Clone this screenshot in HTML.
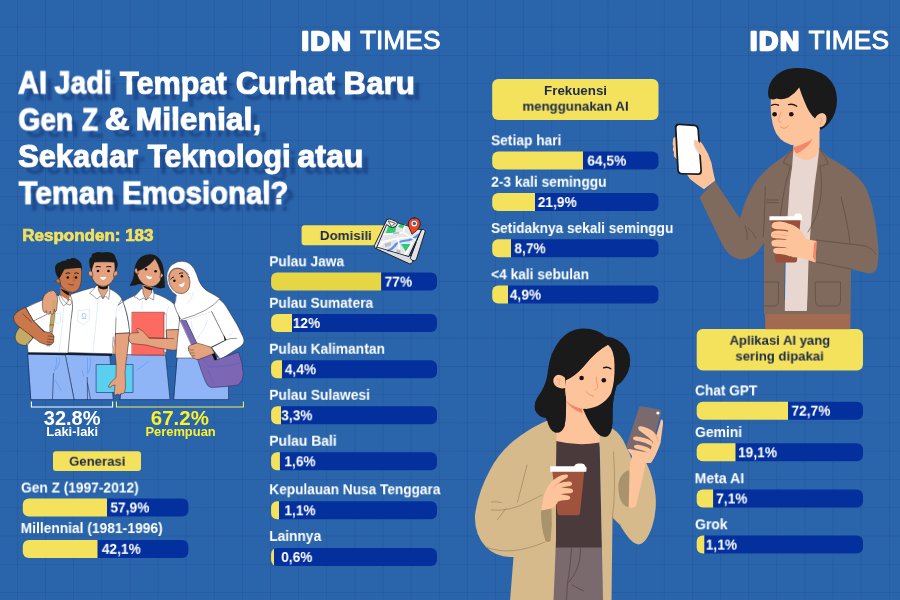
<!DOCTYPE html>
<html lang="id"><head><meta charset="utf-8"><title>AI Jadi Tempat Curhat Baru Gen Z &amp; Milenial</title>
<style>
*{box-sizing:border-box}
html,body{margin:0;padding:0}
body{width:900px;height:600px;overflow:hidden;position:relative;background:#2a65ac;font-family:"Liberation Sans",sans-serif;color:#fff}
.grid{position:absolute;left:0;top:0;width:900px;height:600px;
 background-image:linear-gradient(to right,rgba(22,40,100,.15) 0,rgba(22,40,100,.15) 1.3px,transparent 1.3px),linear-gradient(to bottom,rgba(22,40,100,.15) 0,rgba(22,40,100,.15) 1.3px,transparent 1.3px);
 background-size:28.14px 28.28px;background-position:16.9px 26.7px}
.art{position:absolute;left:0;top:0;width:900px;height:600px;overflow:visible}
.t{position:absolute;left:0;top:0;white-space:nowrap;line-height:1;transform-origin:0 0;margin:0;font-weight:700;paint-order:stroke fill;will-change:transform}
.bar{position:absolute;left:0;top:0;border-radius:6px;background:#03309c;transform-origin:0 0}
.pill{position:absolute;left:0;top:0;background:#f4e25c;border-radius:5px;transform-origin:0 0}
h1,h2,p{margin:0;font-size:inherit;font-weight:inherit}
</style></head>
<body>
<div class="grid"></div>
<h1 class="title"><span class="t tl" style="font-size:30.6px;color:#fff;-webkit-text-stroke:1.2px #fff;transform:translate(18.10px,67.50px) scaleX(0.9482);text-shadow:6.5px 6.5px 2.5px rgba(16,40,100,.45);">AI </span><span class="t tl" style="font-size:30.6px;color:#fff;-webkit-text-stroke:1.2px #fff;transform:translate(54.57px,67.50px) scaleX(0.9311);text-shadow:6.5px 6.5px 2.5px rgba(16,40,100,.45);">Jadi </span><span class="t tl" style="font-size:30.6px;color:#fff;-webkit-text-stroke:1.2px #fff;transform:translate(120.12px,67.50px) scaleX(1.0014);text-shadow:6.5px 6.5px 2.5px rgba(16,40,100,.45);">Tempat </span><span class="t tl" style="font-size:30.6px;color:#fff;-webkit-text-stroke:1.2px #fff;transform:translate(235.88px,67.50px) scaleX(1.0068);text-shadow:6.5px 6.5px 2.5px rgba(16,40,100,.45);">Curhat </span><span class="t tl" style="font-size:30.6px;color:#fff;-webkit-text-stroke:1.2px #fff;transform:translate(343.58px,67.50px) scaleX(1.0209);text-shadow:6.5px 6.5px 2.5px rgba(16,40,100,.45);">Baru</span><span class="t tl" style="font-size:30.6px;color:#fff;-webkit-text-stroke:1.2px #fff;transform:translate(18.43px,104.40px) scaleX(0.9205);text-shadow:6.5px 6.5px 2.5px rgba(16,40,100,.45);">Gen </span><span class="t tl" style="font-size:30.6px;color:#fff;-webkit-text-stroke:1.2px #fff;transform:translate(82.10px,104.40px) scaleX(0.8498);text-shadow:6.5px 6.5px 2.5px rgba(16,40,100,.45);">Z </span><span class="t tl" style="font-size:30.6px;color:#fff;-webkit-text-stroke:1.2px #fff;transform:translate(104.78px,104.40px) scaleX(1.1238);text-shadow:6.5px 6.5px 2.5px rgba(16,40,100,.45);">&amp; </span><span class="t tl" style="font-size:30.6px;color:#fff;-webkit-text-stroke:1.2px #fff;transform:translate(135.65px,104.40px) scaleX(1.0401);text-shadow:6.5px 6.5px 2.5px rgba(16,40,100,.45);">Milenial,</span><span class="t tl" style="font-size:30.6px;color:#fff;-webkit-text-stroke:1.2px #fff;transform:translate(18.16px,141.10px) scaleX(1.0075);text-shadow:6.5px 6.5px 2.5px rgba(16,40,100,.45);">Sekadar </span><span class="t tl" style="font-size:30.6px;color:#fff;-webkit-text-stroke:1.2px #fff;transform:translate(147.72px,141.10px) scaleX(1.0038);text-shadow:6.5px 6.5px 2.5px rgba(16,40,100,.45);">Teknologi </span><span class="t tl" style="font-size:30.6px;color:#fff;-webkit-text-stroke:1.2px #fff;transform:translate(297.38px,141.10px) scaleX(1.0483);text-shadow:6.5px 6.5px 2.5px rgba(16,40,100,.45);">atau</span><span class="t tl" style="font-size:30.6px;color:#fff;-webkit-text-stroke:1.2px #fff;transform:translate(18.82px,177.80px) scaleX(0.9872);text-shadow:6.5px 6.5px 2.5px rgba(16,40,100,.45);">Teman </span><span class="t tl" style="font-size:30.6px;color:#fff;-webkit-text-stroke:1.2px #fff;transform:translate(122.17px,177.80px) scaleX(0.9579);text-shadow:6.5px 6.5px 2.5px rgba(16,40,100,.45);">Emosional?</span></h1>
<div class="t" style="font-size:15.8px;color:#f3e05c;-webkit-text-stroke:0.7px #f3e05c;transform:translate(22.30px,227.63px) scaleX(1.0750);">Responden: 183</div>
<div class="t" style="font-size:20px;color:#fff;transform:translate(43.76px,408.47px) scaleX(1.0013);">32.8%</div>
<div class="t" style="font-size:12.8px;color:#fff;transform:translate(46.28px,425.86px) scaleX(1.0129);">Laki-laki</div>
<div class="t" style="font-size:20px;color:#fbf22a;transform:translate(150.87px,408.47px) scaleX(1.0223);">67.2%</div>
<div class="t" style="font-size:12.8px;color:#fbf22a;transform:translate(145.38px,425.86px) scaleX(1.0089);">Perempuan</div>
<section class="generasi">
<div class="pill" style="width:88px;height:20px;transform:translate(53.00px,451.20px) scale(1.0000,0.9900);border-radius:3px;"></div>
<h2 class="t" style="font-size:13.3px;color:#1b2a4a;transform:translate(69.08px,454.74px) scaleX(0.9897);">Generasi</h2>
<div class="t" style="font-size:14.4px;color:#fff;transform:translate(21.03px,480.51px) scaleX(0.9541);">Gen Z (1997-2012)</div>
<div class="bar" style="width:166px;height:18px;transform:translate(22.80px,498.50px) scale(0.9976,1.0000);background:linear-gradient(90deg,#f4e25c 0,#f4e25c 84.15px,#03309c 84.65px)"></div><div class="t v" style="font-size:14.6px;color:#fff;transform:translate(110.44px,500.47px) scaleX(0.9400);">57,9%</div>
<div class="t" style="font-size:14.4px;color:#fff;transform:translate(20.64px,521.01px) scaleX(0.9593);">Millennial (1981-1996)</div>
<div class="bar" style="width:166px;height:18px;transform:translate(22.80px,539.90px) scale(0.9976,1.0000);background:linear-gradient(90deg,#f4e25c 0,#f4e25c 74.63px,#03309c 75.13px)"></div><div class="t v" style="font-size:14.6px;color:#fff;transform:translate(101.83px,541.87px) scaleX(0.9400);">42,1%</div>
</section>
<section class="domisili">
<div class="pill" style="width:89px;height:20px;transform:translate(301.60px,225.20px) scale(1.0000,1.0050);border-radius:3px;"></div>
<h2 class="t" style="font-size:13.4px;color:#1b2a4a;transform:translate(319.86px,228.96px) scaleX(0.9968);">Domisili</h2>
<div class="t" style="font-size:14.4px;color:#fff;transform:translate(269.25px,254.31px) scaleX(0.9531);">Pulau Jawa</div>
<div class="bar" style="width:166px;height:18px;transform:translate(271.10px,272.60px) scale(0.9994,1.0000);background:linear-gradient(90deg,#e6d645 0,#e6d645 110.02px,#03309c 110.52px)"></div><div class="t v" style="font-size:14.6px;color:#fff;transform:translate(384.67px,274.57px) scaleX(0.9400);">77%</div>
<div class="t" style="font-size:14.4px;color:#fff;transform:translate(269.25px,295.81px) scaleX(0.9548);">Pulau Sumatera</div>
<div class="bar" style="width:166px;height:18px;transform:translate(271.10px,314.00px) scale(0.9994,1.0000);background:linear-gradient(90deg,#f4e25c 0,#f4e25c 20.46px,#03309c 20.96px)"></div><div class="t v" style="font-size:14.6px;color:#fff;transform:translate(292.76px,315.97px) scaleX(0.9400);">12%</div>
<div class="t" style="font-size:14.4px;color:#fff;transform:translate(269.24px,341.71px) scaleX(0.9579);">Pulau Kalimantan</div>
<div class="bar" style="width:166px;height:18px;transform:translate(271.10px,360.30px) scale(0.9994,1.0000);background:linear-gradient(90deg,#f4e25c 0,#f4e25c 10.66px,#03309c 11.16px)"></div><div class="t v" style="font-size:14.6px;color:#fff;transform:translate(284.83px,362.27px) scaleX(0.9400);">4,4%</div>
<div class="t" style="font-size:14.4px;color:#fff;transform:translate(269.24px,387.81px) scaleX(0.9614);">Pulau Sulawesi</div>
<div class="bar" style="width:166px;height:18px;transform:translate(271.10px,406.30px) scale(0.9994,1.0000);background:linear-gradient(90deg,#f4e25c 0,#f4e25c 9.46px,#03309c 9.96px)"></div><div class="t v" style="font-size:14.6px;color:#fff;transform:translate(281.23px,408.27px) scaleX(0.9400);">3,3%</div>
<div class="t" style="font-size:14.4px;color:#fff;transform:translate(269.23px,433.71px) scaleX(0.9711);">Pulau Bali</div>
<div class="bar" style="width:166px;height:18px;transform:translate(271.10px,452.30px) scale(0.9994,1.0000);background:linear-gradient(90deg,#f4e25c 0,#f4e25c 8.36px,#03309c 8.86px)"></div><div class="t v" style="font-size:14.6px;color:#fff;transform:translate(284.36px,454.27px) scaleX(0.9400);">1,6%</div>
<div class="t" style="font-size:14.4px;color:#fff;transform:translate(269.25px,482.31px) scaleX(0.9485);">Kepulauan Nusa Tenggara</div>
<div class="bar" style="width:166px;height:18px;transform:translate(271.10px,501.30px) scale(0.9994,1.0000);background:linear-gradient(90deg,#f4e25c 0,#f4e25c 7.65px,#03309c 8.15px)"></div><div class="t v" style="font-size:14.6px;color:#fff;transform:translate(284.36px,503.27px) scaleX(0.9400);">1,1%</div>
<div class="t" style="font-size:14.4px;color:#fff;transform:translate(269.25px,528.91px) scaleX(0.9544);">Lainnya</div>
<div class="bar" style="width:166px;height:18px;transform:translate(271.10px,548.00px) scale(0.9994,1.0000);background:linear-gradient(90deg,#f4e25c 0,#f4e25c 2.65px,#03309c 3.15px)"></div><div class="t v" style="font-size:14.6px;color:#fff;transform:translate(281.18px,549.97px) scaleX(0.9400);">0,6%</div>
</section>
<section class="frekuensi">
<div class="pill" style="width:166px;height:41px;transform:translate(492.20px,79.00px) scale(1.0018,1.0000);border-radius:6px;"></div>
<h2 class="t" style="font-size:13.3px;color:#1b2a4a;transform:translate(544.06px,83.84px) scaleX(1.0025);">Frekuensi</h2>
<p class="t" style="font-size:13.3px;color:#1b2a4a;transform:translate(522.44px,99.64px) scaleX(0.9954);">menggunakan AI</p>
<div class="t" style="font-size:14.4px;color:#fff;transform:translate(491.03px,133.31px) scaleX(0.9562);">Setiap hari</div>
<div class="bar" style="width:166px;height:18px;transform:translate(492.20px,151.60px) scale(1.0018,1.0000);background:linear-gradient(90deg,#f4e25c 0,#f4e25c 90.39px,#03309c 90.89px)"></div><div class="t v" style="font-size:14.6px;color:#fff;transform:translate(587.32px,153.57px) scaleX(0.9400);">64,5%</div>
<div class="t" style="font-size:14.4px;color:#fff;transform:translate(491.18px,174.71px) scaleX(0.9548);">2-3 kali seminggu</div>
<div class="bar" style="width:166px;height:18px;transform:translate(492.20px,193.00px) scale(1.0018,1.0000);background:linear-gradient(90deg,#f4e25c 0,#f4e25c 42.47px,#03309c 42.97px)"></div><div class="t v" style="font-size:14.6px;color:#fff;transform:translate(537.79px,194.97px) scaleX(0.9400);">21,9%</div>
<div class="t" style="font-size:14.4px;color:#fff;transform:translate(491.03px,221.01px) scaleX(0.9496);">Setidaknya sekali seminggu</div>
<div class="bar" style="width:166px;height:18px;transform:translate(492.20px,239.30px) scale(1.0018,1.0000);background:linear-gradient(90deg,#f4e25c 0,#f4e25c 18.52px,#03309c 19.02px)"></div><div class="t v" style="font-size:14.6px;color:#fff;transform:translate(514.42px,241.27px) scaleX(0.9400);">8,7%</div>
<div class="t" style="font-size:14.4px;color:#fff;transform:translate(491.08px,267.31px) scaleX(0.9530);">&lt;4 kali sebulan</div>
<div class="bar" style="width:166px;height:18px;transform:translate(492.20px,285.60px) scale(1.0018,1.0000);background:linear-gradient(90deg,#f4e25c 0,#f4e25c 15.32px,#03309c 15.82px)"></div><div class="t v" style="font-size:14.6px;color:#fff;transform:translate(509.83px,287.57px) scaleX(0.9400);">4,9%</div>
</section>
<section class="aplikasi">
<div class="pill" style="width:166px;height:41px;transform:translate(696.70px,329.00px) scale(1.0018,1.0098);border-radius:6px;"></div>
<h2 class="t" style="font-size:13.3px;color:#1b2a4a;transform:translate(729.56px,333.74px) scaleX(0.9850);">Aplikasi AI yang</h2>
<p class="t" style="font-size:13.3px;color:#1b2a4a;transform:translate(735.35px,349.54px) scaleX(0.9886);">sering dipakai</p>
<div class="t" style="font-size:14.4px;color:#fff;transform:translate(695.03px,383.41px) scaleX(0.9483);">Chat GPT</div>
<div class="bar" style="width:166px;height:18px;transform:translate(696.70px,401.70px) scale(1.0018,1.0000);background:linear-gradient(90deg,#f4e25c 0,#f4e25c 90.69px,#03309c 91.19px)"></div><div class="t v" style="font-size:14.6px;color:#fff;transform:translate(791.47px,403.67px) scaleX(0.9400);">72,7%</div>
<div class="t" style="font-size:14.4px;color:#fff;transform:translate(695.02px,425.01px) scaleX(0.9646);">Gemini</div>
<div class="bar" style="width:166px;height:18px;transform:translate(696.70px,443.30px) scale(1.0018,1.0000);background:linear-gradient(90deg,#f4e25c 0,#f4e25c 38.48px,#03309c 38.98px)"></div><div class="t v" style="font-size:14.6px;color:#fff;transform:translate(738.06px,445.27px) scaleX(0.9400);">19,1%</div>
<div class="t" style="font-size:14.4px;color:#fff;transform:translate(694.62px,471.21px) scaleX(0.9773);">Meta AI</div>
<div class="bar" style="width:166px;height:18px;transform:translate(696.70px,489.50px) scale(1.0018,1.0000);background:linear-gradient(90deg,#f4e25c 0,#f4e25c 16.32px,#03309c 16.82px)"></div><div class="t v" style="font-size:14.6px;color:#fff;transform:translate(716.17px,491.47px) scaleX(0.9400);">7,1%</div>
<div class="t" style="font-size:14.4px;color:#fff;transform:translate(695.02px,517.31px) scaleX(0.9706);">Grok</div>
<div class="bar" style="width:166px;height:18px;transform:translate(696.70px,535.60px) scale(1.0018,1.0000);background:linear-gradient(90deg,#f4e25c 0,#f4e25c 7.44px,#03309c 7.94px)"></div><div class="t v" style="font-size:14.6px;color:#fff;transform:translate(705.76px,537.57px) scaleX(0.9400);">1,1%</div>
</section>
<svg class="art" width="900" height="600" viewBox="0 0 900 600"><g id="students" stroke-linejoin="round" stroke-linecap="round">
  <!-- ===== pants / skirts ===== -->
  <g stroke="#1d2a4f" stroke-width="0.6">
    <path d="M28 354 L66 354 L74.5 399.6 L31.2 399.6 Z" fill="#8fb5f7"/>
    <path d="M65.5 354 L109.6 354 L113.2 399.6 L74.5 399.6 Z" fill="#8fb5f7"/>
    <path d="M127 354 L165.5 355 L170 399.6 L120.2 399.6 Z" fill="#8fb5f7"/>
    <path d="M177.5 357 L228 357 L228.6 399.6 L174 399.6 Z" fill="#8fb5f7"/>
  </g>
  <g fill="none" stroke="#1d2a4f" stroke-width="0.6">
    <path d="M53.5 373.5 L52.5 399"/>
    <path d="M87.3 377.5 L87.5 399.5 M87.5 383 L90.5 399.5"/>
  </g>
  <g fill="none" stroke="#4f8ae8" stroke-width="0.5" stroke-dasharray="0.8 0.8">
    <path d="M56.5 358 Q57 366 53.8 372"/>
    <path d="M59.6 358 Q60 366 55 370"/>
    <path d="M87.5 358 L87.5 374"/>
    <path d="M90.6 358 Q91 368 88 373"/>
  </g>
  <g fill="none" stroke="#4f8ae8" stroke-width="0.5">
    <path d="M55 380 L61.5 391"/>
    <path d="M82.3 371 L83.8 376.5"/>
    <path d="M137 370 L148.5 361.5"/>
  </g>
  <!-- belts -->
  <path d="M28 352.2 L66 353.4 L66 355.2 L28 354.6 Z" fill="#161c33"/>
  <path d="M66 352.6 L112 354 L112 356 L66 355 Z" fill="#161c33"/>

  <!-- ===== boy 1 bag ===== -->
  <path d="M19.5 327.5 Q14.5 333 15.3 339 Q17.5 345.3 26 345.6 L33 338 L24 327.5 Z" fill="#c5aa63" stroke="#2a2a2a" stroke-width="0.5"/>
  <path d="M26.5 343.5 L47 331 L48.5 333 L27.5 345.5 Z" fill="#b9bcc4" stroke="#3a3a3a" stroke-width="0.4"/>

  <!-- ===== boy 1 shirt ===== -->
  <path d="M26 307.5 Q42 299 58 295.5 L73 296 L73 303.5 L68.5 353 L28 352.5 L27.5 345 L33 338 L46 333 L33.5 321 Z" fill="#fff" stroke="#2a2a2a" stroke-width="0.5"/>
  <path d="M33.5 321 L46.5 314.5" fill="none" stroke="#2a2a2a" stroke-width="0.5"/>
  <!-- strap -->
  <path d="M52.5 300 L56.2 301 Q55 315 53.5 325 L50 325 Q51.5 312 52.5 300 Z" fill="#c5aa63" stroke="#3a3320" stroke-width="0.4"/>
  <path d="M50 325 L53.5 325 L52.5 331.5 L50.2 331.5 Z" fill="#c5aa63" stroke="#3a3320" stroke-width="0.4"/>
  <path d="M50.5 331.5 L52.5 331.5 L50 346 L47 346 Z" fill="#b9bcc4" stroke="#3a3a3a" stroke-width="0.4"/>
  <!-- boy1 pocket -->
  <path d="M56 313.5 L60.8 313.3 L60.5 321.5 L57.8 324 L55.5 322.5 Z" fill="#fff" stroke="#c3d8f3" stroke-width="0.5"/>
  <!-- boy 1 arm -->
  <path d="M25.3 307.6 Q16 311 13.6 316.5 Q12.6 321 17.5 325.5 L40 342.5 Q46 345.6 51.5 344.5 Q55 342 53.6 339 Q54.8 336.5 53 334.5 L49.5 332.5 L43.5 331.5 L33.5 321 Z" fill="#c9774b" stroke="#2a1a14" stroke-width="0.5"/>
  <g fill="none" stroke="#2a1a14" stroke-width="0.45">
    <path d="M23 314 L31.5 322"/>
    <path d="M48 336 L53.5 336.5 M47.6 339 L53.3 339.6 M47 341.8 L52 342.4"/>
  </g>
  <!-- boy 1 neck -->
  <path d="M60.5 287 L70 291 L69 302.5 L66.5 299 Q62 296.5 60.3 295 Z" fill="#c9774b"/>
  <path d="M60.5 288.5 Q63.5 293.5 69 295.6 L69.5 292.5 Z" fill="#1b1212"/>
  <!-- boy 1 collar -->
  <path d="M58.5 295.3 L60.3 294.8 Q62.5 300 66.6 303.5 L63.5 306 Q59.5 301 58.5 295.3 Z" fill="#fff" stroke="#2a2a2a" stroke-width="0.45"/>
  <path d="M66.6 303.5 L69.5 299 L72 302 L70.5 304.8 Z" fill="#fff" stroke="#2a2a2a" stroke-width="0.45"/>

  <!-- ===== boy 2 shirt ===== -->
  <path d="M70.5 294.5 Q82 290.5 93 287.5 L109 288.5 Q118 292.5 122 299 Q127 310 130 332.8 L115.6 333.6 L113.5 353.8 L68 352.6 L71 320 Q73.5 306 72 300 Z" fill="#fff" stroke="#2a2a2a" stroke-width="0.5"/>
  <path d="M116 318 L115.5 333.5" fill="none" stroke="#2a2a2a" stroke-width="0.5"/>
  <g fill="none" stroke="#c3d8f3" stroke-width="0.5">
    <path d="M98 300 Q96 325 93 352"/>
    <path d="M117.5 305 Q115.5 312 116 318"/>
    <path d="M78.5 310.5 L89.5 309.6 L89 320.5 L83.6 324.5 L78 321.5 Z"/>
    <path d="M63.5 308 Q62.5 330 59 352"/>
  </g>
  <path d="M82.5 314 Q84.2 312.4 85.8 314 Q86.3 316 85 317.2 L86 318.5 L82 318.5 L83.2 317.2 Q82 316 82.5 314 Z" fill="none" stroke="#6da0ee" stroke-width="0.5"/>
  <!-- boy 2 neck + collar -->
  <path d="M97.6 281 L108.6 281 L108 290 L103 298.5 L98 290.5 Z" fill="#e5a27f"/>
  <path d="M97.6 284.5 Q103 289 108.6 284.5 L108.5 288 Q103 291 97.6 287.6 Z" fill="#1b1212"/>
  <path d="M96.6 285.6 L98 285.4 L98.6 290.5 L103 298.6 L100.5 296 L96.8 299 Q93 295 89.6 293.3 Q93.5 289.5 96.6 285.6 Z" fill="#fff" stroke="#2a2a2a" stroke-width="0.45"/>
  <path d="M109.3 285.6 L108 285.4 L107.6 290.5 L103 298.6 L105.5 296 L108.6 299.3 L109.6 292.6 Z" fill="#fff" stroke="#2a2a2a" stroke-width="0.45"/>
  <!-- boy 2 hand on boy 1 shoulder -->
  <path d="M42.5 307.5 Q41.5 300 44.5 295 Q48.5 290.3 53.5 290.6 Q57.5 293 57.6 300 L56.8 308 Q57 311.5 55 311.8 L54.2 309 L53.5 313.5 Q52.3 315.2 50.6 313.6 L50.3 311 L49.5 314 Q48 315 46.6 313.3 L46.3 310.5 L45.6 312.5 Q44 313 43.2 311 Z" fill="#e5a27f" stroke="#2a1a14" stroke-width="0.45"/>
  <path d="M52.5 300 L55.6 301 L54.8 309 L52 309 Z" fill="#c5aa63"/>
  <!-- boy 2 arm holding folder (behind folder top, hand in front) -->
  <path d="M96.5 364.5 L133 364.5 L133 392.5 L96.5 392.5 Z" fill="#5bd0ee" stroke="#1d2a6f" stroke-width="0.6"/>
  <path d="M115.8 333.6 L129.8 333 Q128.5 350 126 362 Q124.5 372 125.3 380 Q126 388 124.6 392.5 Q123 394.5 121 393.5 L119.5 395 L117.5 394 L115.5 395.2 Q113.6 394.5 114.3 391.5 L115 385 Q112 385 110 387.5 Q108 387.8 108.6 385.8 Q111 381.5 116 377.5 Q117 365 115 352 Z" fill="#e5a27f" stroke="#2a1a14" stroke-width="0.45"/>
  <path d="M113.2 337 Q112 346 113.5 354" fill="none" stroke="#2a1a14" stroke-width="0.45"/>
  <path d="M115.6 333.8 L114 345 L112 353.8 L115.2 353.8 Z" fill="#e5a27f"/>

  <!-- ===== girl 1 ===== -->
  <path d="M118.5 305 Q126 298.5 141.6 292.6 L152.5 292.6 Q167 297.5 174 304 Q179 312 181.3 329.5 L166.5 330 L165.5 355.4 L127 354.6 L129.8 333 Q128 312 122 299.5 Z" fill="#fff" stroke="#2a2a2a" stroke-width="0.5"/>
  <g fill="none" stroke="#c3d8f3" stroke-width="0.5">
    <path d="M142.5 301 L141.6 309.5"/>
    <path d="M122.6 305 Q120 308 118.8 311"/>
    <path d="M169 306 Q167 310 166.5 314"/>
  </g>
  <!-- red book -->
  <path d="M132.2 312.2 L164.3 312.2 L164.3 355 L132.2 355 Z" fill="#fc6a62" stroke="#7a1f1c" stroke-width="0.5"/>
  <path d="M164.3 314 L166.3 314 L166.3 352 L164.3 352 Z" fill="#fff" stroke="#2a2a2a" stroke-width="0.3"/>
  <!-- girl 1 arm -->
  <path d="M166.5 330 L181.3 329.5 Q182.5 340 181 346 Q178 351 171 350 Q158 348.5 146 345 L132 343.6 Q128.6 342 129 339.6 Q128 337.5 129.2 335.6 Q128.8 333.6 131 333 L138.5 332.8 Q138 331 136.3 329.6 Q136.6 328 138.6 328.6 Q143 330.5 146 334.5 L149 338 L166.5 338.4 Z" fill="#e5a27f" stroke="#2a1a14" stroke-width="0.45"/>
  <path d="M149 338 L173.5 338.6" fill="none" stroke="#2a1a14" stroke-width="0.45"/>
  <!-- girl 1 neck/collar -->
  <path d="M142.6 284 L152 287 L151.5 292 L146 300 L142.6 293 Z" fill="#e5a27f"/>
  <path d="M142.6 285.5 Q146 290 152.5 290.6 L152.3 288 Z" fill="#1b1212"/>
  <path d="M141.6 288.6 L142.8 288.6 L143 293 L146 300 L143.6 298 L139.6 300 Q137 297.5 134.2 296.6 Q138.5 292.5 141.6 288.6 Z" fill="#fff" stroke="#2a2a2a" stroke-width="0.45"/>
  <path d="M153.2 289.6 L152 289.6 L151.5 293 L146 300 L149.3 297.6 L153.6 300 L154 294 Z" fill="#fff" stroke="#2a2a2a" stroke-width="0.45"/>

  <!-- ===== girl 2 ===== -->
  <!-- shirt body & arm -->
  <path d="M180 318 L219 299 Q224 302 229.5 312 Q238 325 243.6 338 Q245 343.5 240.5 346.5 L220.5 359.6 L211.5 347.5 L225.6 340 L212 312 L186 320.5 L197.5 345 L197.5 358 L176 358 L177.5 340 Z" fill="#fff" stroke="#2a2a2a" stroke-width="0.5"/>
  <path d="M186 320 L212 311.5 L226 339.6 L211 347 L197.6 345 Z" fill="#fff"/>
  <path d="M211.5 311.5 L225.8 339.8 M225.8 339.8 Q231 338 236.5 338.3 M211.3 347.5 L225.8 340.2" fill="none" stroke="#2a2a2a" stroke-width="0.5"/>
  <path d="M223.5 334.5 L226.3 339.8 L224.6 340.6 Z" fill="#1b1a1a"/>
  <g fill="none" stroke="#c3d8f3" stroke-width="0.5">
    <path d="M191.5 321.5 Q192.5 328 192 333"/>
    <path d="M207.5 320.5 Q204 331 196.5 340"/>
    <path d="M229.5 335.5 L233.5 331.5"/>
    <path d="M186 349 L190.5 346"/>
  </g>
  <!-- purple bag -->
  <path d="M197.6 359.5 L211 352 L216 360 L238.6 352 Q242.6 362 243.3 374 Q243.6 380.5 238 385 Q226 387 211 387.5 Q207.5 386.5 205.6 382 Q201.5 372 197.6 359.5 Z" fill="#7d66b3" stroke="#1d2a4f" stroke-width="0.5"/>
  <path d="M203.5 359.5 Q206.5 365 210 367 Q226 366.5 239.5 363.5 M208.5 370.5 Q210.5 377 213.5 383" fill="none" stroke="#4460c9" stroke-width="0.5" stroke-dasharray="1.6 1"/>
  <path d="M211.6 353.6 L214.3 352.3 L217.3 359.3 L214.6 360.6 Z" fill="#111"/>
  <!-- strap -->
  <path d="M180.5 320.6 L186 320.4 L197.8 345.2 L193 347.4 Z" fill="#7d66b3" stroke="#1d2a4f" stroke-width="0.5"/>
  <!-- hand -->
  <path d="M188.5 348.5 Q187.6 346.3 190 345.4 L197 343 Q205 345 211.3 347.4 L214.5 353.3 L199 359.3 Q196 360 194.3 358.4 Q192 357.6 191.6 355.6 Q189.6 354.5 189.8 352.5 Q187.8 350.6 188.5 348.5 Z" fill="#e5a27f" stroke="#2a1a14" stroke-width="0.45"/>
  <path d="M189.8 350 L193.5 350 M190.6 353 L194 353 M192 355.8 L195 355.6" fill="none" stroke="#2a1a14" stroke-width="0.4"/>
  <!-- hijab -->
  <path d="M166.6 278 Q166.6 266 177 262 Q188 259 194 268.5 Q197 274 199 281 Q202 288 208 291.5 Q215 295 220 298.5 Q209 312 181 319.6 Q175.6 311 174.3 304.5 Q176 301 176.3 295 Q167.5 290 166.6 278 Z" fill="#fff" stroke="#2a2a2a" stroke-width="0.5"/>
  <ellipse cx="179.4" cy="281" rx="10.3" ry="13" transform="rotate(-22 179.4 281)" fill="#e5a27f" stroke="#2a1a14" stroke-width="0.45"/>
  <path d="M168.6 277 Q169 268.5 177 268 Q184.5 268.2 188.5 274.5" fill="none" stroke="#2a2a2a" stroke-width="0.5"/>
  <g fill="none" stroke="#c3d8f3" stroke-width="0.5">
    <path d="M182.5 266 Q185.5 268.5 187 271.6"/>
    <path d="M193.5 292 Q192.5 298 187.5 303.5"/>
    <path d="M176 297 Q176.6 300 176 303"/>
  </g>
  <circle cx="174.4" cy="280.8" r="1.25" fill="#111"/>
  <circle cx="181.9" cy="276.3" r="1.25" fill="#111"/>
  <path d="M170.6 279.2 Q171.6 277.3 173.6 277" fill="none" stroke="#111" stroke-width="0.9"/>
  <path d="M179.3 273.6 Q180.8 272.6 182.8 273" fill="none" stroke="#111" stroke-width="0.9"/>
  <path d="M178.6 284.5 Q182 284.6 184.3 282 Q185 285.5 182.6 286.8 Q180 287.6 178.6 284.5 Z" fill="#fff"/>
  <path d="M176.3 278.8 Q177 281.5 178.3 283" fill="none" stroke="#f0906e" stroke-width="0.5"/>

  <!-- ===== heads ===== -->
  <!-- boy 1 head -->
  <path d="M58.3 270 L81.4 267 Q82 279 80.4 285 Q78.5 291.6 72.6 292.4 Q66.5 292.4 61.6 286.5 Q59 283 58.3 270 Z" fill="#c9774b" stroke="#2a1a14" stroke-width="0.45"/>
  <path d="M59.6 279.5 Q56.6 277.6 56 280.4 Q56.3 283.3 60 283.6 Z" fill="#c9774b" stroke="#2a1a14" stroke-width="0.45"/>
  <path d="M58.8 278.8 Q55 274 55 268 Q55.2 263.5 60 262.3 Q62 260.6 66 260.4 Q66.6 258.5 69.6 259.3 Q72 257.3 75 258.3 Q79.5 260 81 263 Q82.6 266 81.6 270.5 Q81.5 268.8 80.6 268 Q72 267.5 64.6 269 Q62.5 273 60.6 276.5 Z" fill="#1b1a1a"/>
  <circle cx="67.8" cy="277.4" r="1.25" fill="#111"/>
  <circle cx="76" cy="277.4" r="1.25" fill="#111"/>
  <path d="M66 273.3 Q67.8 272.3 69.8 273.2 M74.6 273.2 Q76.5 272.4 78.4 273.4" fill="none" stroke="#111" stroke-width="0.9"/>
  <path d="M73.6 276 L73.8 281" fill="none" stroke="#8a4a30" stroke-width="0.5"/>
  <path d="M68.6 284 Q71 285.6 73.6 285" fill="none" stroke="#3a1a14" stroke-width="0.6"/>
  <!-- boy 2 head -->
  <path d="M92 262 L114.6 262 Q115.6 274 113.6 279 Q110 286 103.2 286.2 Q96 286 92.6 279 Q90.8 274 92 262 Z" fill="#e5a27f" stroke="#2a1a14" stroke-width="0.45"/>
  <path d="M92 271.5 Q88.6 270 88.3 273 Q88.6 276.5 92.6 276.4 Z" fill="#e5a27f" stroke="#2a1a14" stroke-width="0.45"/>
  <path d="M114.4 271.5 Q117.6 270 117.8 273 Q117.6 276.4 113.8 276.4 Z" fill="#e5a27f" stroke="#2a1a14" stroke-width="0.45"/>
  <path d="M91.6 271.6 Q88.6 266 89.3 260 Q89.3 257.5 91.6 257 Q91 253.5 94.5 253 Q98 251.6 102 252.4 Q108 251.4 112 253 Q115.6 255 116 259 Q118.3 262 117.5 266 Q116.6 270 115 271.6 Q115.3 266 114.6 262.6 Q104 260.5 94.5 262.3 Q92.6 266 91.6 271.6 Z" fill="#1b1a1a"/>
  <circle cx="98" cy="271" r="1.3" fill="#111"/>
  <circle cx="108.5" cy="271" r="1.3" fill="#111"/>
  <path d="M96 266.8 Q98 265.8 100.4 266.8 M106.6 266.8 Q108.8 265.8 111 266.8" fill="none" stroke="#111" stroke-width="1"/>
  <path d="M104.8 269.5 Q104.6 272.5 105.3 274" fill="none" stroke="#f0906e" stroke-width="0.5"/>
  <path d="M99.8 276.8 Q103.2 277.6 106.4 276.8 Q105.6 279.8 103.2 280 Q100.6 279.8 99.8 276.8 Z" fill="#fff"/>
  <!-- girl 1 head -->
  <path d="M129.6 285.5 Q132.5 282 133.6 276 Q134 262 141 257 Q148 252.5 155.6 255.6 Q162.5 259.6 163.8 270 Q164.6 280 165 287.6 Q160 289.5 155 287 L139 284 Q134 286.5 129.6 285.5 Z" fill="#1b1a1a"/>
  <path d="M136.6 271.5 Q144 269 149.5 264.5 Q153 261.5 155 258.6 Q158.6 264 160.6 271.4 Q161.6 277 160.3 280.5 Q156.6 287 150.2 286.6 Q143 285.6 139 279 Q137 275.5 136.6 271.5 Z" fill="#e5a27f" stroke="#2a1a14" stroke-width="0.45"/>
  <path d="M137 268.6 Q134.5 267.6 134.6 270.4 Q135 273.6 138 274 Z" fill="#e5a27f" stroke="#2a1a14" stroke-width="0.45"/>
  <path d="M160.8 273.6 Q163.3 273 163 275.6 Q162.5 278 160.3 278 Z" fill="#e5a27f" stroke="#2a1a14" stroke-width="0.45"/>
  <circle cx="146" cy="269.2" r="1.3" fill="#111"/>
  <circle cx="155.6" cy="271.2" r="1.3" fill="#111"/>
  <path d="M152.4 267.5 Q151.6 271 152 274" fill="none" stroke="#f0906e" stroke-width="0.5"/>
  <path d="M145.8 275.2 Q149 277 152.4 276.8 Q151.4 279.6 149 279.3 Q146.5 278.6 145.8 275.2 Z" fill="#fff"/>
</g>
<g id="mapicon" stroke-linejoin="round" stroke-linecap="round">
  <!-- back sheet -->
  <path d="M376.2 248.6 L409.5 263.8 Q411.5 264.2 412.3 262.2 L414.8 257.2 L378.5 243.5 Z" fill="#dcdcdf" stroke="#15151a" stroke-width="0.9"/>
  <!-- right roll -->
  <path d="M421.3 229.4 Q424.4 228.6 425.3 231 L416.3 259.6 Q414.6 261.5 412 260.3 L410.5 258.6 Z" fill="#e3e3e6" stroke="#15151a" stroke-width="0.9"/>
  <!-- main sheet -->
  <g transform="matrix(34 10.2 -12.6 26.6 387.4 219.8)">
    <path d="M0 0 L1 0 L1 1 L0 1 Z" fill="#e6e6e9"/>
    <path d="M0.1 0.16 L0.3 0.1 L0.36 0.36 L0.12 0.46 Z" fill="#2ecc71"/>
    <path d="M0.38 0.0 L0.52 0.0 L0.5 0.14 L0.36 0.12 Z" fill="#2ecc71"/>
    <path d="M0.64 0.66 L0.9 0.56 L0.86 0.86 Z" fill="#2ecc71"/>
    <path d="M0.98 0.18 Q0.9 0.42 0.7 0.52 Q0.52 0.62 0.5 0.8 Q0.48 0.92 0.4 1" fill="none" stroke="#5b93ee" stroke-width="0.075"/>
    <g fill="none" stroke="#fff" stroke-width="0.05">
      <path d="M0.08 0.52 L0.56 0.26 L1 0.4"/>
      <path d="M0.56 0.26 L0.52 0"/>
      <path d="M0.12 0.8 L0.5 0.5 L0.74 1"/>
      <path d="M0.5 0.5 L0.74 0.38"/>
      <path d="M0.92 0.5 L0.88 1"/>
      <path d="M0.1 0.98 L0.2 0.74"/>
    </g>
    <g fill="#b9bcc6">
      <path d="M0.3 0.36 L0.46 0.28 L0.47 0.34 L0.32 0.42 Z"/>
      <path d="M0.22 0.82 L0.36 0.7 L0.4 0.8 L0.28 0.92 Z"/>
      <path d="M0.6 0.9 L0.7 0.86 L0.76 0.98 L0.64 1 Z"/>
    </g>
    <path d="M0 0 L1 0 L1 1 L0 1 Z" fill="none" stroke="#15151a" stroke-width="0.028"/>
  </g>
  <!-- left roll -->
  <path d="M387.2 219.4 Q389.5 218.4 391.6 219.6 L396.6 221.6 Q398.6 223.6 396 226.3 L392.6 227.6 Q389.6 227 386.6 224.6 L376.2 248.6 Q374 248 374.3 246 Z" fill="#e3e3e6" stroke="#15151a" stroke-width="0.9"/>
  <path d="M388.6 221 L395.3 223.4 L391.6 226 Z" fill="#f5f5f7" stroke="#15151a" stroke-width="0.6"/>
  <!-- pin -->
  <path d="M414.2 217.9 Q420.1 217.9 420.3 223.8 Q420 227.5 416.6 230.6 L412 234.3 Q410.8 231.6 409.3 228 Q407.6 224.6 408.6 221.6 Q410 218 414.2 217.9 Z" fill="#f2441e" stroke="#15151a" stroke-width="0.8"/>
  <circle cx="414.3" cy="223.6" r="2.3" fill="#2a65ac" stroke="#fff" stroke-width="1.1"/>
</g>
<g id="man">
  <!-- pants -->
  <path d="M765 312 L850.5 312 L850.3 329.2 L765.3 329.2 Z" fill="#a36a52"/>
  <path d="M783 300 L809 300 L809 314 L783 314 Z" fill="#80695d"/>
  <!-- shirt -->
  <path d="M780 162 L793 151 L791 242 L783 242 Z" fill="#80695d"/>
  <path d="M792 151 L821 150 L806.8 311 L784.8 311 L786 240 Z" fill="#e7d7d0"/>
  <!-- neck -->
  <path d="M796 132 L819.5 118 L819.5 151 Q815 160.5 805 160 Q797 159 792.5 151 Z" fill="#fdc39a"/>
  <path d="M794 147 Q806 145 813.5 134 Q812 146 797 153.5 Q793.5 151 794 147 Z" fill="#f3876c"/>
  <!-- jacket body left -->
  <path d="M783 157 Q791 151 793.5 147.5 L792 168 Q786 200 785 240 L784 314 L764 314 L764 243 Q752 262 738 259 Q729 257 722 244 L699.5 197.5 L714.5 180.5 L740 218.5 Q746 197 752 188 Q760 172 783 157 Z" fill="#80695d"/>
  <!-- jacket body right -->
  <path d="M819.5 147.5 Q822 152 829 157.5 Q857 172 866 188 Q874 205 877 235 Q880 255 877 268 Q874 275 866 273 L851 269 L850.7 314 L807 314 L808.5 262 Q812 200 817 168 Z" fill="#80695d"/>
  <!-- lapel / seam lines -->
  <g fill="none" stroke="#5f4b43" stroke-width="0.7" stroke-linecap="round" stroke-linejoin="round">
    <path d="M793 149 Q784 158 783.5 163 L790.5 166 Q780 200 779 236"/>
    <path d="M765.3 187 Q764.6 215 763.3 237"/>
    <path d="M819.5 149 Q827 158 828 164 L820 166 Q826 205 808 232"/>
    <path d="M764 282 L778.5 282 L778.5 301 Q778.5 306 773 306 L764 306"/>
    <path d="M815.5 282 L840.5 282 L840.5 301 Q840.5 306 835 306 L820 306 Q815.5 306 815.5 301 Z"/>
    <path d="M767 200 L778 200 M767 202.6 L778 202.6"/>
    <path d="M841 197 Q848 225 850 243"/>
    <path d="M816 240 L866 246 Q872 248 876 254"/>
    <path d="M816.5 262 L851 269"/>
    <path d="M745 226 Q748 232 747 240 M748 228 Q754 233 756 238"/>
  </g>
  <!-- cup -->
  <path d="M771.3 220 L800.5 220 L797 260 Q797 262.5 794.5 262.5 L778 262.5 Q775.6 262.5 775.3 260 Z" fill="#9a4f3b"/>
  <path d="M769.5 216.3 L794 216.3 Q794.5 213.6 797 213.6 L799.5 213.6 Q801.6 213.8 802 216.3 L802.3 220.3 L769.3 220.3 Z" fill="#fff"/>
  <!-- right hand holding cup -->
  <path d="M790 224 Q797 226 802 232 L806 239 L816.5 241 L815.5 262.5 L800 257.5 Q794 258 790 256 L786 240 Z" fill="#fdc39a"/>
  <path d="M772.6 223.2 Q771 225.5 772.2 227.6 Q774 229.4 778 229.2 Q786 229.2 791 231.6 L796 228 Q790 222.6 780 221.4 Q774.5 221.2 772.6 223.2 Z" fill="#fdc39a"/>
  <path d="M771.6 232.6 Q770.2 235 771.6 237 Q773.5 238.8 778 238.4 Q785 238.2 790.5 240.4 L792 232.5 Q785 230.6 778 230.6 Q773.4 230.6 771.6 232.6 Z" fill="#fdc39a"/>
  <path d="M771.8 241 Q770.6 243.4 772 245.4 Q774 247.2 778 246.8 Q785 246.8 790 249 L791.5 240.6 Q785 239.4 778 239.4 Q773.6 239.2 771.8 241 Z" fill="#fdc39a"/>
  <path d="M773.6 249 Q772.6 251 774 252.8 Q776 254.4 780 254 Q786 254.4 790 256.4 L791 248.6 Q786 247.8 780 247.8 Q775.4 247.4 773.6 249 Z" fill="#fdc39a"/>
  <path d="M814 243.5 L816.6 241 L815.6 262.5 L813 257 Z" fill="#f3876c"/>
  <path d="M773 234.6 Q781 234.2 788 236" fill="none" stroke="#f3a27e" stroke-width="0.7" stroke-linecap="round"/>
  <!-- left hand + phone -->
  <path d="M675 137 Q672.5 138 673 141 Q672 144 673.5 146.5 Q672 150 674 152 Q673 156 675.5 158 L678 160 L678 137 Z" fill="#fdc39a"/>
  <path d="M686 173 L700 173 L699 146 Q696.5 143 694.6 141.5 Q694 139.5 696 139.3 Q700 140 703 145 Q709 154 711.5 163 Q713 172 715.2 180.5 L704 189.2 Q696 184 690 179 Z" fill="#fdc39a"/>
  <path d="M678.9 123.6 L694.6 124.6 Q698.4 125 698.9 128.8 L702 170.8 Q702.2 175 698.2 175 L681.4 174.6 Q677.6 174.4 677.2 170.6 L674.8 127.6 Q674.7 123.5 678.9 123.6 Z" fill="#1c1a1a"/>
  <path d="M679.6 125.3 L694 126.2 Q696.9 126.5 697.3 129.4 L700.3 170.2 Q700.4 173.3 697.4 173.3 L682 172.9 Q679.2 172.8 678.9 170 L676.6 128.3 Q676.5 125.2 679.6 125.3 Z" fill="#fff"/>
  <path d="M694.3 140 Q697.5 139.5 700.5 144 L701.5 156 Q697 152 695 146 Q693.5 142 694.3 140 Z" fill="#fdc39a"/>
  <path d="M694.2 144 Q695.5 150 699 153.5" fill="none" stroke="#d9dde6" stroke-width="1.2" stroke-linecap="round"/>
  <!-- head -->
  <path d="M770.8 90 L812 82 L820 118 L819.6 131 Q812 143 796.5 145.2 Q784 145.5 776.5 134 Q771.5 125 770.8 110 Z" fill="#fdc39a"/>
  <!-- ear -->
  <path d="M815 119 Q818 112.5 823 113 Q827.5 114.5 826.5 120.5 Q825.5 127 819.5 127.5 Q816 127 815 119 Z" fill="#fdc39a"/>
  <path d="M820 117.5 Q823 118.5 821.5 121 Q819.5 122.5 820.5 124.5" fill="none" stroke="#f3a27e" stroke-width="0.8" stroke-linecap="round"/>
  <!-- hair -->
  <path d="M768.3 96 Q767 88 772 80 Q780 68.5 795 68 Q813 67 826 76 Q837 85 837 100 Q837 112 830 122 Q826 127 820.5 130 L819.8 127.5 Q826 126 826.6 119.5 Q827 113.5 822 113 Q818 113 815 118.5 Q809 113 805.5 104 Q801.5 95 799.3 87.5 Q795 93.5 788.5 97.5 Q782 100.5 776.5 98.5 Q773.5 100 770.5 99 Q768.6 98.5 768.3 96 Z" fill="#1b1a1a"/>
  <!-- face details -->
  <circle cx="774.6" cy="114.2" r="2.3" fill="#1b1212"/>
  <circle cx="791.3" cy="114.2" r="2.3" fill="#1b1212"/>
  <path d="M771.5 105.3 Q775 103.6 778.5 105.2" fill="none" stroke="#2a1a16" stroke-width="1.3" stroke-linecap="round"/>
  <path d="M788.5 104.6 Q793 103.4 796.8 106.2" fill="none" stroke="#2a1a16" stroke-width="1.3" stroke-linecap="round"/>
  <path d="M781.5 112 Q778 118 778.7 121 Q779.5 122.6 781 122.4" fill="none" stroke="#f08e6e" stroke-width="0.8" stroke-linecap="round"/>
  <path d="M780.3 126.6 Q784.5 130.6 788.6 125.8" fill="none" stroke="#f08e6e" stroke-width="0.9" stroke-linecap="round"/>
</g>
<g id="woman">
  <!-- hair back -->
  <path d="M582 328.6 Q596 328 606 336.5 Q620 338 627 349 Q633 360 628 372 Q624 381 616.5 386 Q612 400 612.5 418 Q613 432 608 436 Q603 438.5 598 434 Q590 426 584 414 L566 414 Q566 424 563 430 Q559 434.5 553.5 432 Q548 429 546 418 Q538 417 535 410 Q533 402 541 392 Q547 382 548 370 Q550 352 560 340 Q569 329.5 582 328.6 Z" fill="#1b1a1a"/>
  <!-- neck / chest -->
  <path d="M565.5 396 L584 400 L600 434 L600 446 L556 446 L556 430 Q562 432 564.5 426 Q566.5 418 565.5 396 Z" fill="#fdc39a"/>
  <path d="M564.6 399.5 Q572 410.5 582.5 413.2 L582 408.5 Q571 406.5 564.6 399.5 Z" fill="#f3876c"/>
  <!-- pants -->
  <path d="M553.5 546 L601.5 546 L603 601 L553 601 Z" fill="#7a696d"/>
  <g fill="none" stroke="#5a3f3a" stroke-width="0.7" stroke-linecap="round">
    <path d="M571.5 548 Q570 570 567.5 583 L566.5 600"/>
    <path d="M580.5 548 Q581 570 568 583"/>
    <path d="M572 585 L583.5 591"/>
  </g>
  <!-- inner top -->
  <path d="M556 441 Q578 446.5 599.5 442.5 L602 547.5 L553.5 547.5 Z" fill="#4b3a3c"/>
  <!-- coat left (viewer's left) body + sleeve -->
  <path d="M548 420.3 Q553 419 556.5 432 L556 470 L556 540 L553.5 601 L510 601 L513.5 557 Q497 558 486 547 Q474 534 475 515 Q478 492 490 470 Q500 450 520 436 Q534 426 548 420.3 Z" fill="#d6ba8b"/>
  <!-- coat right body -->
  <path d="M599.5 436 L606 432 Q609 429 612.5 428.5 Q621 434 626 446 L628.5 452 L628.5 507 L620 525 L612.5 517.5 L611.5 601 L603 601 Z" fill="#d6ba8b"/>
  <!-- right lock in front of neck -->
  <path d="M583 409 Q590 426 598 434 Q603 438.5 608 436 Q613 432 612.5 418 Q612 400 616.5 386 L600 400 Z" fill="#1b1a1a"/>
  <!-- right sleeve -->
  <path d="M628 450 Q632 458 634 470 L629 507 L640 470 L646.5 463 Q653.5 478 655.5 495 Q657 512 652 527 Q646 544 638.5 544.5 Q631 544 620 525 Q610 500 612 470 Q615 450 628 450 Z" fill="#d6ba8b"/>
  <path d="M629.5 470 Q632 485 629 507.5 Q622 506 619.5 497 Q617 485 620 478 Q624 471 629.5 470 Z" fill="#a8936c"/>
  <!-- left lock over coat -->
  <path d="M548 400 L566 396 Q566.5 418 564.5 426 Q562 433.5 555.5 432.8 Q549 431 546.5 418 Z" fill="#1b1a1a"/>
  <!-- right forearm / hand -->
  <path d="M628.7 507.5 L629.5 470 Q630 462 632 456 L627.5 449.5 L640 444 L655 440 L661 419.5 Q663.5 419 663 424 L660.5 443 Q656 456 651 463 L646 463 Q640 490 636 506 Q633 509 628.7 507.5 Z" fill="#fdc39a"/>
  <!-- phone -->
  <path d="M641.6 406.3 L659.3 409.6 Q661.6 410.4 661.2 412.8 L650.3 451 Q649.4 452.8 647.3 452.4 L628.2 448.8 Q626 448 626.6 445.8 L639 407.6 Q639.8 406 641.6 406.3 Z" fill="#7b6a6d"/>
  <circle cx="657.9" cy="413" r="1.6" fill="#fff"/>
  <!-- fingers over phone -->
  <path d="M638.2 428.3 Q637.6 426 641 426.3 Q648 427.5 653.5 431.8 L658 437 L655 444 Q648 436 640 431 Q638.3 430 638.2 428.3 Z" fill="#fdc39a"/>
  <path d="M633 438.6 Q633 436.2 637 436.6 Q646 437.5 652 441.5 L653.5 447 Q645 442 635.5 440.6 Q633.2 440.2 633 438.6 Z" fill="#fdc39a"/>
  <path d="M633.8 446.6 Q634 444.3 638 444.8 Q646 446 651 449.5 L650 454 Q644 450 636 448.7 Q633.8 448.2 633.8 446.6 Z" fill="#fdc39a"/>
  <path d="M654.5 433 Q657 437 658.5 441" fill="none" stroke="#f3976f" stroke-width="0.7" stroke-linecap="round"/>
  <!-- cup -->
  <path d="M552.3 471 L584.3 471 L580 513 Q579.8 515.3 577.5 515.3 L560 515.3 Q557.7 515.3 557.4 513 Z" fill="#a0533c"/>
  <path d="M550.3 466.2 L574 466.2 Q575.5 463.6 578 463.6 L582 463.6 Q584.6 463.8 585.3 466.2 L586.6 467.5 L586.3 471.8 L550.3 471.8 Z" fill="#fff"/>
  <!-- left sleeve cuff shadow -->
  <path d="M541 510 L551.5 508 Q552.5 525 550.5 541 Q548 543 545.5 541 Q540.5 526 541 510 Z" fill="#a8936c"/>
  <!-- left hand -->
  <path d="M541.3 510.5 Q542.5 497 547 488 Q553 478 562 475 Q567.5 473.5 568 475.6 Q568.3 477.6 565 479 Q561 480.5 558.5 483.5 Q564 481.5 569 481.5 Q572.5 481.8 572 484.2 Q571.7 486 568 486.2 L561 487.5 Q566 488.2 570.5 488.5 Q573.4 489 573 491.2 Q572.7 493.2 569 493.3 L560.5 494 Q565 495.2 568 495.6 Q570.6 496.2 570.2 498.2 Q569.8 500 566 500 Q561 500 558 501.5 Q555.5 506.5 551.5 508.5 Z" fill="#fdc39a"/>
  <path d="M554.5 487 Q556 484 558.5 483" fill="none" stroke="#f3876c" stroke-width="0.6" stroke-linecap="round"/>
  <!-- coat seams -->
  <g fill="none" stroke="#9d8560" stroke-width="0.7" stroke-linecap="round">
    <path d="M527 465 Q522 485 517.5 502"/>
    <path d="M491.5 510 Q510 512 530 501 Q538 497 542 495"/>
    <path d="M491.5 502 Q496 501 501 502.5"/>
    <path d="M497.5 519.5 L506 508.5"/>
    <path d="M486 547 Q510 557 545 542"/>
    <path d="M613.5 452 Q616 490 612.5 517.5"/>
    <path d="M612.5 517.5 Q616 522 620.5 525"/>
  </g>
  <!-- face -->
  <path d="M566 380 Q575 376 584 366 Q596 351 608 344.8 Q614.5 350 614.5 365 Q615 382 611 393.5 Q603 407 586 409 Q574 408.5 566.5 398.5 Q564 392 566 380 Z" fill="#fdc39a"/>
  <!-- ear -->
  <path d="M565 377.5 Q560 373.5 556 375.5 Q552.5 378 553.5 382.5 Q555 387.5 562 388.5 L566 388 Z" fill="#fdc39a"/>
  <path d="M557.5 379 Q560.5 379 559.5 381.5 Q558.5 383 559.5 384.5" fill="none" stroke="#f3a27e" stroke-width="0.8" stroke-linecap="round"/>
  <!-- hair front fringe -->
  <path d="M608 344.6 Q596 351 584 366 Q575 376.5 566 380 L563 374 Q560 352 575 340 Q590 333 608 344.6 Z" fill="#1b1a1a"/>
  <circle cx="581.6" cy="378" r="2.3" fill="#1b1212"/>
  <circle cx="603.8" cy="380.3" r="2.3" fill="#1b1212"/>
  <path d="M603.5 367.8 Q607.5 366.2 610.8 368.8" fill="none" stroke="#1b1212" stroke-width="1.4" stroke-linecap="round"/>
  <path d="M596.5 377 Q595.5 381 597.5 385 Q598.3 388.6 594.8 390" fill="none" stroke="#f08e6e" stroke-width="0.8" stroke-linecap="round"/>
  <path d="M586.2 391.8 Q589 395.5 593.5 396.3" fill="none" stroke="#f08e6e" stroke-width="0.9" stroke-linecap="round"/>
</g>
<g fill="none" stroke-width="1.1"><path d="M31.4 401.6 L31.4 407 L112.6 407 L112.6 401.6" stroke="#ffffff"/><path d="M116.4 401.6 L116.4 407 L243.4 407 L243.4 401.6" stroke="#f3ec5e"/></g><g font-family="Liberation Sans, sans-serif" fill="#fff" stroke="#fff" stroke-linejoin="round" stroke-linecap="round"><text x="301.6" y="49.6" font-size="26.6" font-weight="700" stroke-width="2.3" letter-spacing="1.6">IDN</text><text x="359.9" y="49.4" font-size="26.2" font-weight="400" stroke-width="0.9" textLength="80.6" lengthAdjust="spacingAndGlyphs">TIMES</text></g><g font-family="Liberation Sans, sans-serif" fill="#fff" stroke="#fff" stroke-linejoin="round" stroke-linecap="round"><text x="750.1" y="49.6" font-size="26.6" font-weight="700" stroke-width="2.3" letter-spacing="1.6">IDN</text><text x="808.4" y="49.4" font-size="26.2" font-weight="400" stroke-width="0.9" textLength="80.6" lengthAdjust="spacingAndGlyphs">TIMES</text></g></svg>
</body></html>
